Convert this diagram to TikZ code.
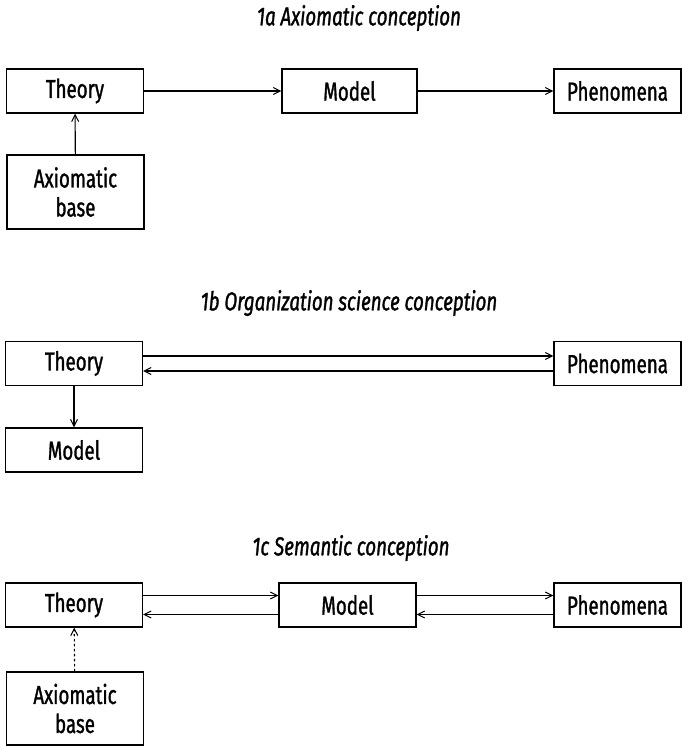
\documentclass[tikz,border=0pt]{standalone}
\usepackage{fontspec}
\setmainfont[FakeStretch=0.72,FakeBold=1.2]{Fira Sans}
\usetikzlibrary{arrows.meta}

\begin{document}
\begin{tikzpicture}[x=1pt,y=-1pt,
	box/.style={draw,line width=1.1pt,minimum width=137pt,minimum height=44pt,inner sep=0pt,align=center,font=\fontsize{26}{29}\selectfont},
	ttl/.style={font=\fontsize{26}{27}\selectfont\itshape},
	arr/.style={line width=1.1pt,-{Straight Barb[length=7pt,width=7pt,line width=1pt]}}]

		\useasboundingbox (0,0) rectangle (685,746);

		% 1a
		\node (ttlA) at (359,18) [ttl] {1a Axiomatic conception};

		\node (thA) at (75,91) [box] {Theory};
		\node (mdlA) at (349.5,91) [box,minimum width=135pt] {Model};
		\node (phA) at (617.5,91) [box,minimum width=127pt] {Phenomena};
		\node (axA) at (75.5,192) [box,minimum height=74pt] {Axiomatic\\base};

		\draw[arr] (thA) -- (mdlA);
		\draw[arr] (mdlA) -- (phA);
		\draw[arr] (axA) -- (thA);

		% 1b
		\node (ttlB) at (349,303) [ttl] {1b Organization science conception};

		\node (thB) at (74,363.5) [box] {Theory};
		\node (phB) at (617.5,363.5) [box,minimum width=127pt] {Phenomena};
		\node (mdlB) at (74,450) [box] {Model};

		\draw[arr] ([yshift=7.5pt]thB.east) -- ([yshift=7.5pt]phB.west);
		\draw[arr] ([yshift=-7.5pt]phB.west) -- ([yshift=-7.5pt]thB.east);
		\draw[arr] (thB) -- (mdlB);

		% 1c
		\node (ttlC) at (351,548) [ttl] {1c Semantic conception};

		\node (thC) at (74,605) [box] {Theory};
		\node (mdlC) at (347.5,605) [box] {Model};
		\node (phC) at (617.5,605) [box,minimum width=127pt] {Phenomena};
		\node (axC) at (75,708.5) [box,minimum height=73pt] {Axiomatic\\base};

		\draw[arr] ([yshift=9.5pt]thC.east) -- ([yshift=9.5pt]mdlC.west);
		\draw[arr] ([yshift=-9.5pt]mdlC.west) -- ([yshift=-9.5pt]thC.east);
		\draw[arr] ([yshift=9.5pt]mdlC.east) -- ([yshift=9.5pt]phC.west);
		\draw[arr] ([yshift=-9.5pt]phC.west) -- ([yshift=-9.5pt]mdlC.east);
		\draw[arr,dash pattern=on 2.5pt off 2.5pt] (axC) -- (thC);

\end{tikzpicture}
\end{document}
